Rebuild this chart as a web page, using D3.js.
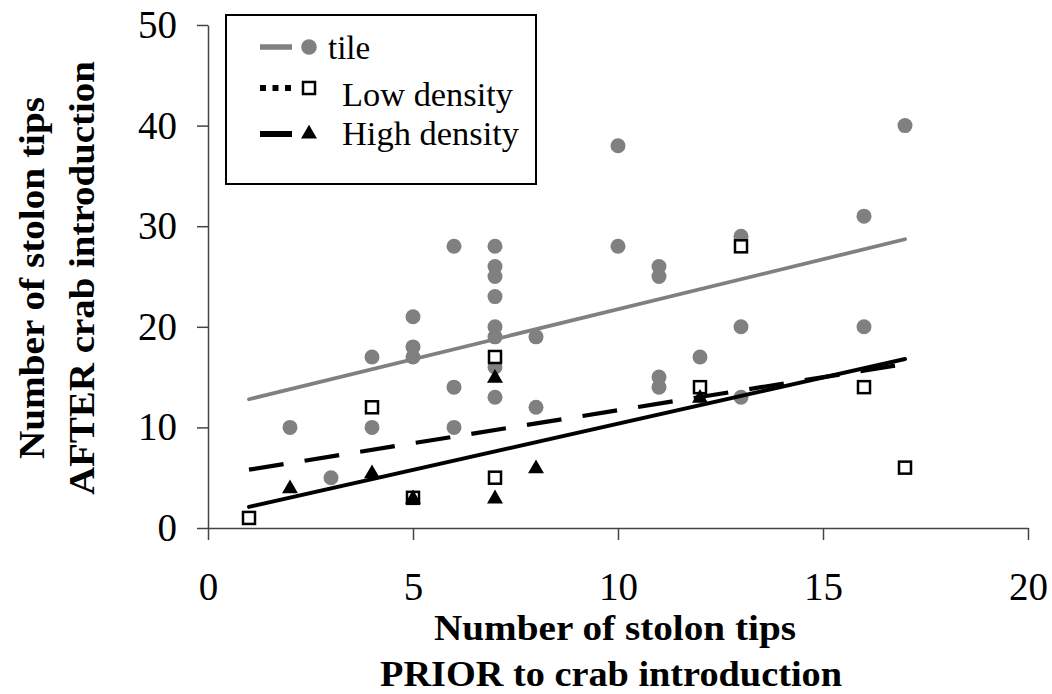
<!DOCTYPE html>
<html>
<head>
<meta charset="utf-8">
<script src="https://cdn.jsdelivr.net/npm/d3@7"></script>
<style>
  html, body { margin: 0; padding: 0; background: #fff; }
  svg { display: block; }
  text { font-family: "Liberation Serif", "Times New Roman", serif; fill: #000; }
</style>
</head>
<body>
<svg id="chart" width="1052" height="694"></svg>
<script>
// Stolon tips before (x) and after (y) crab introduction, per treatment
const tileX = [2, 3, 4, 4, 5, 5, 5, 6, 6, 6, 7, 7, 7, 7, 7, 7, 7, 7, 8, 8, 10, 10, 11, 11, 11, 11, 12, 13, 13, 13, 16, 16, 17];
const tileY = [10, 5, 17, 10, 21, 18, 17, 28, 14, 10, 28, 26, 25, 23, 20, 19, 16, 13, 19, 12, 38, 28, 26, 25, 15, 14, 17, 29, 20, 13, 31, 20, 40];

const lowX = [1, 4, 5, 7, 7, 12, 13, 16, 17];
const lowY = [1, 12, 3, 17, 5, 14, 28, 14, 6];

const highX = [2, 4, 5, 7, 7, 8, 12];
const highY = [4, 5.5, 3, 15, 3, 6, 13];

// Linear trend lines (end points)
const trendX = [1, 17];
const tileTrendY = [12.8, 28.7];
const lowTrendY = [5.8, 16.3];
const highTrendY = [2.1, 16.8];

const xTicks = [0, 5, 10, 15, 20];
const yTicks = [0, 10, 20, 30, 40, 50];

const legendLabels = ["tile", "Low density", "High density"];

const svg = d3.select("#chart");
const x = d3.scaleLinear().domain([0, 20]).range([208, 1028]);
const y = d3.scaleLinear().domain([0, 50]).range([528, 25]);

const GRAY = "#808080";
const AXIS = "#444";

// Axes
const gx = svg.append("g").attr("transform", "translate(0,528)")
  .call(d3.axisBottom(x).tickValues(xTicks).tickSize(12).tickSizeOuter(0).tickFormat(d3.format("d")));
gx.selectAll("text").attr("y", 72).attr("dy", 0).style("font-size", "39px");

const gy = svg.append("g").attr("transform", "translate(208,0)")
  .call(d3.axisLeft(y).tickValues(yTicks).tickSize(11).tickSizeOuter(0).tickPadding(20).tickFormat(d3.format("d")));
gy.selectAll("text").style("font-size", "39px");

svg.selectAll(".domain, .tick line").attr("stroke", AXIS).attr("stroke-width", 1.5);

// Axis titles (slightly wide bold face)
const xTitle = svg.append("text").attr("text-anchor", "middle")
  .style("font-size", "36px").style("font-weight", "bold");
xTitle.append("tspan").attr("x", 615).attr("y", 640)
  .attr("textLength", 362).attr("lengthAdjust", "spacingAndGlyphs").text("Number of stolon tips");
xTitle.append("tspan").attr("x", 611).attr("y", 686)
  .attr("textLength", 462).attr("lengthAdjust", "spacingAndGlyphs").text("PRIOR to crab introduction");

const yTitle = svg.append("text").attr("text-anchor", "middle")
  .attr("transform", "translate(0,278) rotate(-90)")
  .style("font-size", "36px").style("font-weight", "bold");
yTitle.append("tspan").attr("x", 0).attr("y", 44)
  .attr("textLength", 362).attr("lengthAdjust", "spacingAndGlyphs").text("Number of stolon tips");
yTitle.append("tspan").attr("x", 0).attr("y", 94)
  .attr("textLength", 434).attr("lengthAdjust", "spacingAndGlyphs").text("AFTER crab introduction");

// Markers
const tri = d3.symbol().type(d3.symbolTriangle).size(110);

svg.append("g").selectAll("circle")
  .data(d3.zip(tileX, tileY)).join("circle")
  .attr("cx", d => x(d[0])).attr("cy", d => y(d[1])).attr("r", 7.5)
  .attr("fill", GRAY);

svg.append("g").selectAll("rect")
  .data(d3.zip(lowX, lowY)).join("rect")
  .attr("x", d => x(d[0]) - 6).attr("y", d => y(d[1]) - 6)
  .attr("width", 12).attr("height", 12)
  .attr("fill", "#fff").attr("stroke", "#000").attr("stroke-width", 2.5);

svg.append("g").selectAll("path")
  .data(d3.zip(highX, highY)).join("path")
  .attr("d", tri)
  .attr("transform", d => `translate(${x(d[0])},${y(d[1]) + 1})`)
  .attr("fill", "#000");

// Trend lines
const line = d3.line().x(d => x(d[0])).y(d => y(d[1]));
svg.append("path").datum(d3.zip(trendX, tileTrendY)).attr("d", line)
  .attr("fill", "none").attr("stroke", GRAY).attr("stroke-width", 3.8).attr("stroke-linecap", "round");
svg.append("path").datum(d3.zip(trendX, lowTrendY)).attr("d", line)
  .attr("fill", "none").attr("stroke", "#000").attr("stroke-width", 4.2).attr("stroke-dasharray", "35 21.3");
svg.append("path").datum(d3.zip(trendX, highTrendY)).attr("d", line)
  .attr("fill", "none").attr("stroke", "#000").attr("stroke-width", 4).attr("stroke-linecap", "round");

// Legend
const lg = svg.append("g");
lg.append("rect").attr("x", 226).attr("y", 15).attr("width", 310).attr("height", 169)
  .attr("fill", "#fff").attr("stroke", "#000").attr("stroke-width", 2);

const rows = [47, 88, 134];
lg.append("line").attr("x1", 260).attr("x2", 292).attr("y1", rows[0]).attr("y2", rows[0])
  .attr("stroke", GRAY).attr("stroke-width", 5.5);
lg.append("circle").attr("cx", 309).attr("cy", rows[0]).attr("r", 7.8).attr("fill", GRAY);

lg.append("line").attr("x1", 260).attr("x2", 292).attr("y1", rows[1]).attr("y2", rows[1])
  .attr("stroke", "#000").attr("stroke-width", 6).attr("stroke-dasharray", "6 6.5");
lg.append("rect").attr("x", 303).attr("y", rows[1] - 6).attr("width", 12).attr("height", 12)
  .attr("fill", "#fff").attr("stroke", "#000").attr("stroke-width", 2.5);

lg.append("line").attr("x1", 260).attr("x2", 292).attr("y1", rows[2]).attr("y2", rows[2])
  .attr("stroke", "#000").attr("stroke-width", 6);
lg.append("path").attr("d", tri).attr("transform", `translate(309,${rows[2]})`).attr("fill", "#000");

lg.append("text").attr("x", 328).attr("y", 59).style("font-size", "33px").text(legendLabels[0]);
lg.append("text").attr("x", 342).attr("y", 106).style("font-size", "33px")
  .attr("textLength", 171).attr("lengthAdjust", "spacingAndGlyphs").text(legendLabels[1]);
lg.append("text").attr("x", 342).attr("y", 145).style("font-size", "33px")
  .attr("textLength", 177).attr("lengthAdjust", "spacingAndGlyphs").text(legendLabels[2]);
</script>
</body>
</html>
